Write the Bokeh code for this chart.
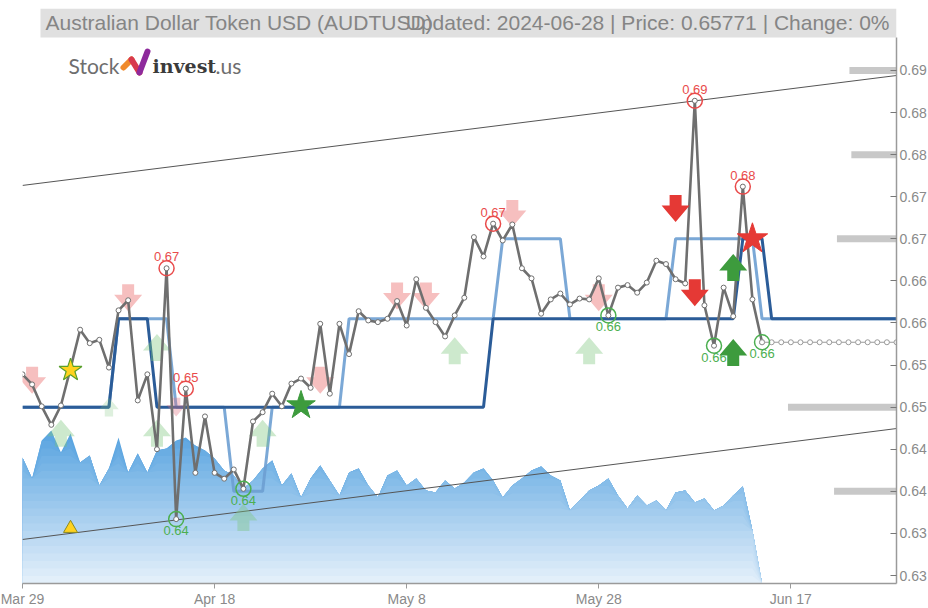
import numpy as np
import pandas as pd
from bokeh.plotting import figure
from bokeh.models import Range1d, FixedTicker, BoxAnnotation, Label
from bokeh.core.properties import value
from bokeh.embed import file_html
from bokeh.resources import INLINE

# ---------------- data ----------------
START = pd.Timestamp("2024-03-29")
END = pd.Timestamp("2024-06-28")

price_dates = pd.date_range("2024-03-29", "2024-06-14", freq="D")
price = [
    0.6539, 0.6527, 0.6501, 0.6479, 0.6502, 0.6546, 0.6592, 0.6576, 0.6580, 0.6547,
    0.6615, 0.6627, 0.6508, 0.6539, 0.6450, 0.6665, 0.6367, 0.6522, 0.6422, 0.6489,
    0.6422, 0.6415, 0.6426, 0.6403, 0.6483, 0.6494, 0.6516, 0.6501, 0.6528, 0.6534,
    0.6523, 0.6599, 0.6516, 0.6599, 0.6563, 0.6614, 0.6603, 0.6601, 0.6605, 0.6626,
    0.6597, 0.6652, 0.6618, 0.6601, 0.6584, 0.6609, 0.6630, 0.6702, 0.6679, 0.6718,
    0.6698, 0.6717, 0.6665, 0.6653, 0.6611, 0.6628, 0.6635, 0.6622, 0.6629, 0.6628,
    0.6653, 0.6609, 0.6642, 0.6645, 0.6636, 0.6648, 0.6674, 0.6670, 0.6652, 0.6647,
    0.6864, 0.6621, 0.6573, 0.6642, 0.6608, 0.6762, 0.6628, 0.65771,
]
last_price = 0.65771
projection_dates = pd.date_range("2024-06-14", "2024-06-28", freq="D")

volume = [
    126, 105, 143, 153, 131, 150, 121, 128, 98, 115,
    146, 111, 130, 111, 133, 135, 143, 146, 138, 133,
    125, 113, 108, 95, 103, 115, 123, 98, 110, 86,
    105, 118, 103, 88, 111, 115, 98, 86, 108, 113,
    98, 105, 93, 91, 103, 95, 101, 111, 115, 103,
    86, 98, 105, 113, 117, 108, 103, 73, 83, 93,
    98, 105, 88, 75, 88, 78, 83, 73, 91, 93,
    81, 85, 73, 78, 88, 97, 53, 0,
]

# smoothed support / resistance levels (level held from date)
dark_level_dates = ["2024-03-29", "2024-04-08", "2024-04-12", "2024-05-17", "2024-06-12", "2024-06-15"]
dark_levels = [0.650, 0.6605, 0.650, 0.6605, 0.670, 0.6605]
light_level_dates = ["2024-03-29", "2024-04-08", "2024-04-14", "2024-04-20", "2024-04-24",
                     "2024-05-02", "2024-05-18", "2024-05-25", "2024-06-05", "2024-06-14"]
light_levels = [0.650, 0.6605, 0.650, 0.640, 0.650, 0.6605, 0.670, 0.6605, 0.670, 0.6605]

# trend channel (value at start and end of chart)
channel_dates = ["2024-03-29", "2024-06-28"]
upper_channel = [0.67634, 0.6894]
lower_channel = [0.63428, 0.64746]

# price-level volume bars at right edge (length in days)
level_bar_prices = [0.690, 0.680, 0.670, 0.650, 0.640]
level_bar_lengths = [4.9, 4.7, 6.2, 11.3, 6.5]

high_dates = ["2024-04-13", "2024-04-15", "2024-05-17", "2024-06-07", "2024-06-12"]
low_dates = ["2024-04-14", "2024-04-21", "2024-05-29", "2024-06-09", "2024-06-14"]

pale_down_dates = ["2024-03-30", "2024-04-09", "2024-04-29", "2024-05-07", "2024-05-10", "2024-05-19", "2024-05-28"]
pale_down_values = [0.6532, 0.6630, 0.6532, 0.6632, 0.6632, 0.6730, 0.6630]
faint_down_dates = ["2024-04-14"]
faint_down_values = [0.6500]
strong_down_dates = ["2024-06-05", "2024-06-07"]
strong_down_values = [0.6736, 0.6636]
pale_up_dates = ["2024-04-02", "2024-04-12", "2024-04-12", "2024-04-23", "2024-04-21", "2024-05-13", "2024-05-27"]
pale_up_values = [0.6469, 0.6571, 0.6469, 0.6469, 0.6369, 0.6567, 0.6567]
faint_up_dates = ["2024-04-07"]
faint_up_values = [0.6500]
strong_up_dates = ["2024-06-11", "2024-06-11"]
strong_up_values = [0.6666, 0.6565]
yellow_star = (["2024-04-03"], [0.6544])
green_star = (["2024-04-27"], [0.6502])
red_star = (["2024-06-13"], [0.6700])
yellow_triangle = (["2024-04-03"], [0.6356])

x_tick_dates = ["2024-03-29", "2024-04-18", "2024-05-08", "2024-05-28", "2024-06-17"]
x_tick_labels = ["Mar 29", "Apr 18", "May 8", "May 28", "Jun 17"]
y_ticks = [0.630, 0.635, 0.640, 0.645, 0.650, 0.655, 0.660, 0.665, 0.670, 0.675, 0.680, 0.685, 0.690]
y_tick_labels = ["0.63", "0.63", "0.64", "0.64", "0.65", "0.65", "0.66", "0.66", "0.67", "0.67", "0.68", "0.68", "0.69"]

title_left = "Australian Dollar Token USD (AUDTUSD)"
title_right = "Updated: 2024-06-28 | Price: 0.65771 | Change: 0%"

# ---------------- helpers ----------------
def day(d):
    return (pd.Timestamp(d) - START).days

def days(ds):
    return [day(d) for d in ds]

def step_series(change_dates, levels, n_days):
    out = []
    cd = days(change_dates)
    for i in range(n_days + 1):
        lvl = levels[0]
        for c, l in zip(cd, levels):
            if i >= c:
                lvl = l
        out.append(lvl)
    return out

N_DAYS = day(END)
price_x = days(price_dates)
price_lookup = dict(zip(price_x, price))

Y0, Y1 = 0.62905, 0.69736
BAND_BOTTOM = 0.69392
FONT = "Liberation Sans"
FRAME_W, FRAME_H = 874, 575
PX_X = N_DAYS / FRAME_W
PX_Y = (Y1 - Y0) / FRAME_H

p = figure(width=928, height=608, frame_width=FRAME_W, frame_height=FRAME_H,
           output_backend="svg", toolbar_location=None,
           x_range=Range1d(0, N_DAYS), y_range=Range1d(Y0, Y1), y_axis_location="right",
           min_border_left=22, min_border_top=8, min_border_bottom=25, min_border_right=5)
p.outline_line_color = None
p.xgrid.visible = False
p.ygrid.visible = False
p.background_fill_color = "white"
p.extra_y_ranges = {"vol": Range1d(0, 575)}

# ---- axes
xa = p.xaxis[0]
xa.ticker = FixedTicker(ticks=days(x_tick_dates))
xa.major_label_overrides = {day(d): l for d, l in zip(x_tick_dates, x_tick_labels)}
xa.axis_line_color = "#9a9a9a"
xa.axis_line_width = 1.5
xa.major_tick_line_color = "#9a9a9a"
xa.major_tick_out = 5
xa.major_tick_in = 0
xa.minor_tick_line_color = None
xa.major_label_text_color = "#8a8a8a"
xa.major_label_text_font = FONT
xa.major_label_text_font_size = "14px"
xa.major_label_standoff = 2

ya = p.yaxis[0]
ya.ticker = FixedTicker(ticks=y_ticks)
ya.major_label_overrides = {t: l for t, l in zip(y_ticks, y_tick_labels)}
ya.bounds = (Y0, BAND_BOTTOM)
ya.axis_line_color = "#9a9a9a"
ya.axis_line_width = 1.5
ya.major_tick_line_color = "#777777"
ya.major_tick_in = 6
ya.major_tick_out = 0
ya.minor_tick_line_color = None
ya.major_label_text_color = "#8a8a8a"
ya.major_label_text_font = FONT
ya.major_label_text_font_size = "14px"
ya.major_label_standoff = 3

# ---- volume area (vertical gradient approximated by bands)
vol_arr = np.array(volume, dtype=float)
vol_x = price_x[:len(volume)]
NB = 20
vtop = 150.0
c_top = np.array([92, 166, 225])
c_bot = np.array([234, 243, 252])
for k in range(NB, 0, -1):
    thr = vtop * k / NB if k < NB else vol_arr.max() + 1
    f = k / NB
    c = (c_bot + (c_top - c_bot) * f).astype(int)
    col = "#%02x%02x%02x" % tuple(c)
    p.varea(x=vol_x, y1=np.zeros(len(vol_arr)), y2=np.minimum(vol_arr, thr),
            fill_color=col, y_range_name="vol")

# ---- trend channel
cx = days(channel_dates)
p.line(cx, upper_channel, color="#555555", line_width=1)
p.line(cx, lower_channel, color="#555555", line_width=1)

# ---- price level bars
p.segment(x0=[N_DAYS - l for l in level_bar_lengths], x1=[N_DAYS] * len(level_bar_lengths),
          y0=level_bar_prices, y1=level_bar_prices, line_width=7, color="#c8c8c8")

# ---- level lines
all_x = list(range(N_DAYS + 1))
p.line(all_x, step_series(light_level_dates, light_levels, N_DAYS), color="#6d9fd2", line_width=3, line_alpha=0.9)
p.line(all_x, step_series(dark_level_dates, dark_levels, N_DAYS), color="#2b5c98", line_width=3)

# ---- block arrows (shape in pixels, anchored at data points)
ARROW_DOWN = [(-6, 13.5), (6, 13.5), (6, 3), (14, 3), (0, -13.5), (-14, 3), (-6, 3)]

def arrows(ds, vs, up, color, alpha, scale=1.0):
    xs, ys = [], []
    sgn = -1 if up else 1
    for d, v in zip(days(ds), vs):
        xs.append([d + sx * scale * PX_X for sx, sy in ARROW_DOWN])
        ys.append([v + sgn * sy * scale * PX_Y for sx, sy in ARROW_DOWN])
    p.patches(xs, ys, fill_color=color, fill_alpha=alpha, line_color=None)

arrows(pale_down_dates, pale_down_values, False, "#ee7f7f", 0.5)
arrows(faint_down_dates, faint_down_values, False, "#e07080", 0.35, 0.7)
arrows(pale_up_dates, pale_up_values, True, "#7cc47c", 0.38)
arrows(faint_up_dates, faint_up_values, True, "#7cc47c", 0.25, 0.7)

# ---- price line
p.line(price_x, price, color="#6f6f6f", line_width=2.6)
p.scatter(price_x, price, size=5, fill_color="white", line_color="#6f6f6f", line_width=1)
proj_x = days(projection_dates)
proj_y = [last_price] * len(proj_x)
p.line(proj_x, proj_y, color="#9a9a9a", line_width=1.2)
p.scatter(proj_x, proj_y, size=5, fill_color="white", line_color="#9a9a9a", line_width=1)

# ---- highs / lows
hx = days(high_dates); hy = [price_lookup[x] for x in hx]
lx = days(low_dates); ly = [price_lookup[x] for x in lx]
p.scatter(hx, hy, size=15, fill_color=None, line_color="#e94b4b", line_width=1.5)
p.scatter(lx, ly, size=15, fill_color=None, line_color="#4caf50", line_width=1.5)
p.text(hx, hy, text=["%.2f" % v for v in hy], text_align="center", text_baseline="bottom", y_offset=-7,
       text_color="#e94b4b", text_font=value(FONT), text_font_size="13px")
p.text(lx, ly, text=["%.2f" % v for v in ly], text_align="center", text_baseline="top", y_offset=7,
       text_color="#4caf50", text_font=value(FONT), text_font_size="13px")

# ---- strong signals
arrows(strong_down_dates, strong_down_values, False, "#e53935", 1.0)
arrows(strong_up_dates, strong_up_values, True, "#3d9b3d", 1.0)
p.scatter(days(yellow_star[0]), yellow_star[1], marker="star", size=24, fill_color="#ffd21f", line_color="#5aa02c", line_width=1.2)
p.scatter(days(green_star[0]), green_star[1], marker="star", size=30, fill_color="#3d9b3d", line_color="#3d9b3d")
p.scatter(days(red_star[0]), red_star[1], marker="star", size=32, fill_color="#e53935", line_color="#e53935")
p.scatter(days(yellow_triangle[0]), yellow_triangle[1], marker="triangle", size=14, fill_color="#ffd21f", line_color="#8a8a20", line_width=1)

# ---- title band
p.add_layout(BoxAnnotation(left=18, left_units="screen", right=N_DAYS, top=Y1, bottom=BAND_BOTTOM,
                           fill_color="#e0e0e0", fill_alpha=1.0, line_color=None, level="underlay"))
band_mid = (Y1 + BAND_BOTTOM) / 2
p.add_layout(Label(x=23, x_units="screen", y=band_mid, text=title_left, text_baseline="middle",
                   text_color="#858585", text_font=FONT, text_font_size="21px"))
p.add_layout(Label(x=N_DAYS, y=band_mid, x_offset=-7, text=title_right, text_align="right", text_baseline="middle",
                   text_color="#858585", text_font=FONT, text_font_size="21px"))

# ---- logo
LOGO_Y = FRAME_H - 57
p.add_layout(Label(x=46, y=LOGO_Y, x_units="screen", y_units="screen", text="Stock", text_baseline="middle",
                   text_color="#6e6e6e", text_font="Lato", text_font_size="21px"))
# logo mark: three strokes, shape given in pixels from the frame's top-left corner
MARK_PX = [(101, 59), (109, 51), (117, 64), (125, 43)]
MARK_COLORS = ["#f08a2c", "#d83a4e", "#8e2a9c"]
mx = [sx * PX_X for sx, sy in MARK_PX]
my = [Y1 - sy * PX_Y for sx, sy in MARK_PX]
p.multi_line(xs=[[mx[i], mx[i + 1]] for i in range(3)], ys=[[my[i], my[i + 1]] for i in range(3)],
             line_color=MARK_COLORS, line_width=6, line_cap="round")
p.add_layout(Label(x=130, y=LOGO_Y, x_units="screen", y_units="screen", text="invest", text_baseline="middle",
                   text_color="#3b3b3b", text_font="DejaVu Serif", text_font_style="bold", text_font_size="19px"))
p.add_layout(Label(x=193, y=LOGO_Y, x_units="screen", y_units="screen", text=".us", text_baseline="middle",
                   text_color="#6e6e6e", text_font="Lato", text_font_size="21px"))

open("out.html", "w").write(file_html(p, INLINE))
